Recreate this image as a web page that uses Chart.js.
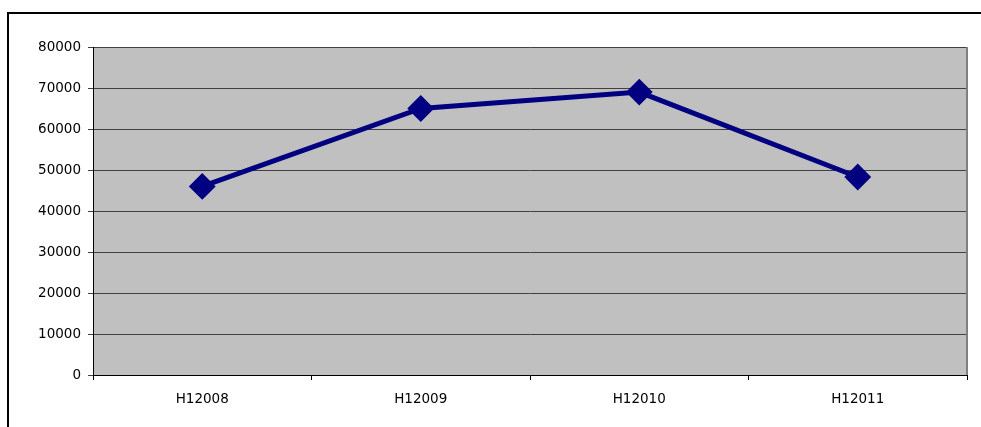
<!DOCTYPE html>
<html>
<head>
<meta charset="utf-8">
<script src="https://cdn.jsdelivr.net/npm/chart.js@4/dist/chart.umd.min.js"></script>
<style>
  html, body { margin: 0; padding: 0; background: #fff; overflow: hidden; }
  #wrap { width: 981px; height: 427px; }
</style>
</head>
<body>
<div id="wrap"><canvas id="myChart" width="981" height="427"></canvas></div>
<script>
// chart data
var categories = ["H12008", "H12009", "H12010", "H12011"];
var values = [46000, 65000, 69000, 48300];
var yTicks = [0, 10000, 20000, 30000, 40000, 50000, 60000, 70000, 80000];

// grey plot background + outer frame, drawn before the datasets
var backdrop = {
    id: "backdrop",
    beforeDraw: function (chart) {
        var c = chart.ctx, a = chart.chartArea;
        c.save();
        c.fillStyle = "#ffffff";
        c.fillRect(0, 0, chart.width, chart.height);
        c.fillStyle = "#c0c0c0";
        c.fillRect(a.left, a.top, a.right - a.left, a.bottom - a.top);
        c.strokeStyle = "#000000";
        c.lineWidth = 2;
        c.strokeRect(8, 13, chart.width + 20, chart.height + 20);
        c.restore();
    },
    beforeDatasetsDraw: function (chart) {
        var c = chart.ctx, a = chart.chartArea;
        c.save();
        c.strokeStyle = "#808080";
        c.lineWidth = 2;
        c.beginPath();
        c.moveTo(a.right, a.top);
        c.lineTo(a.right, a.bottom);
        c.stroke();
        c.restore();
    }
};

var ctx = document.getElementById("myChart").getContext("2d");
var myChart = new Chart(ctx, {
    type: "line",
    data: {
        labels: categories,
        datasets: [
            {
                data: values,
                borderColor: "#000080",
                backgroundColor: "#000080",
                borderWidth: 5,
                tension: 0,
                pointStyle: "rectRot",
                pointRadius: 12,
                pointBorderWidth: 2,
                pointBackgroundColor: "#000080",
                pointBorderColor: "#000080",
            },
        ],
    },
    options: {
        responsive: false,
        animation: false,
        layout: {
            padding: { left: 0, top: 47, right: 10, bottom: 0 },
        },
        plugins: {
            legend: { display: false },
            tooltip: { enabled: false },
        },
        scales: {
            x: {
                type: "category",
                offset: true,
                grid: {
                    offset: true,
                    drawOnChartArea: false,
                    drawTicks: true,
                    tickLength: 5,
                    color: "#000000",
                },
                border: { color: "#000000", width: 1 },
                ticks: {
                    color: "#000000",
                    font: { family: "DejaVu Sans", size: 13.5 },
                    padding: 11,
                    maxRotation: 0,
                },
                afterFit: function (scale) {
                    scale.height = 52;
                    scale.paddingLeft = 0;
                    scale.paddingRight = 0;
                },
            },
            y: {
                min: 0,
                max: 80000,
                afterBuildTicks: function (scale) {
                    scale.ticks = yTicks.map(function (v) { return { value: v }; });
                },
                grid: {
                    color: "#404040",
                    lineWidth: 1,
                    tickLength: 5,
                },
                border: { color: "#000000", width: 1 },
                ticks: {
                    color: "#000000",
                    font: { family: "DejaVu Sans", size: 13.5 },
                    padding: 7,
                    callback: function (v) { return String(v); },
                },
                afterFit: function (scale) {
                    scale.width = 93;
                    scale.paddingTop = 0;
                    scale.paddingBottom = 0;
                },
            },
        },
    },
    plugins: [backdrop],
});
</script>
</body>
</html>
